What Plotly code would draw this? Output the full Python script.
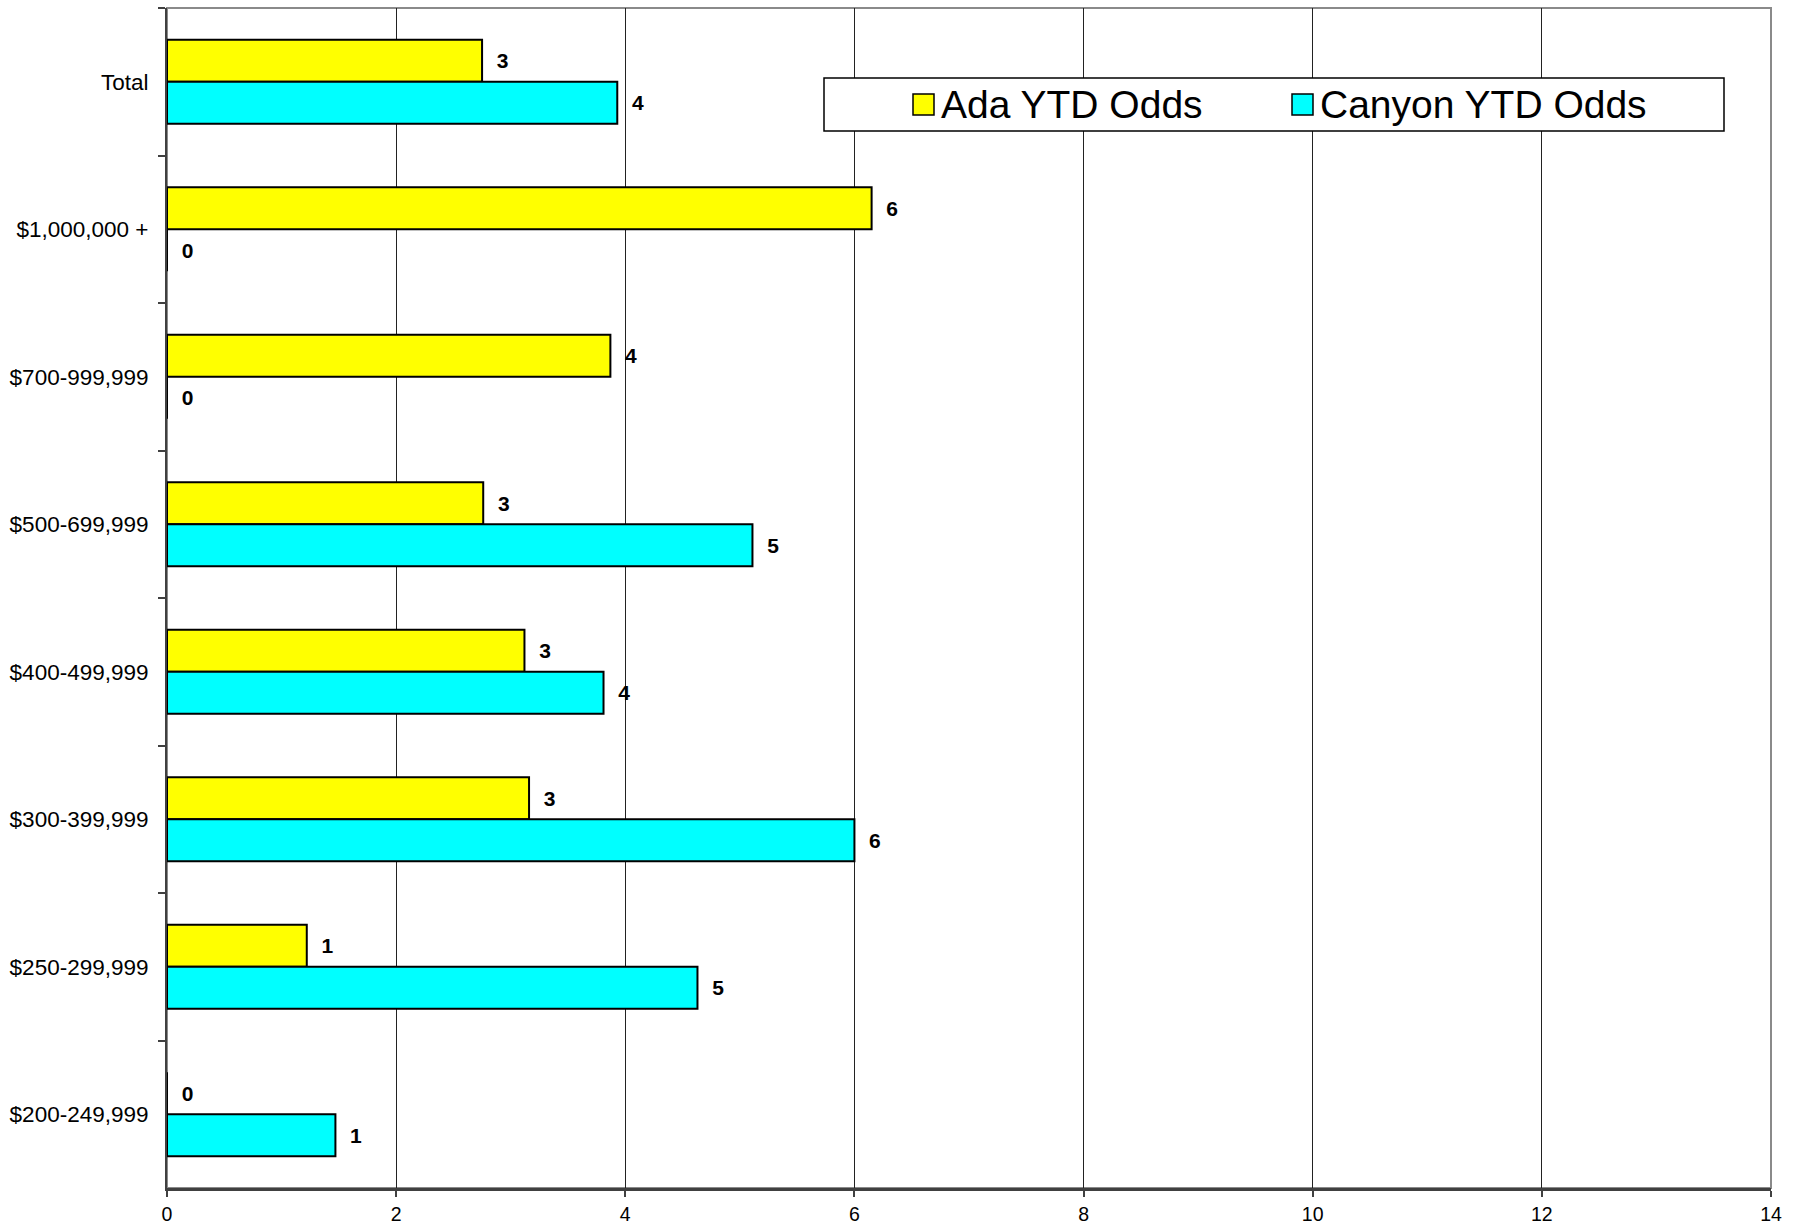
import plotly.graph_objects as go

# ---- data ----
categories = ["Total", "$1,000,000 +", "$700-999,999", "$500-699,999",
              "$400-499,999", "$300-399,999", "$250-299,999", "$200-249,999"]
ada_odds = [2.75, 6.15, 3.87, 2.76, 3.12, 3.16, 1.22, 0.0]
canyon_odds = [3.93, 0.0, 0.0, 5.11, 3.81, 6.00, 4.63, 1.47]
series_names = ["Ada YTD Odds", "Canyon YTD Odds"]
series_colors = ["#FFFF00", "#00FFFF"]
x_ticks = [0, 2, 4, 6, 8, 10, 12, 14]

# ---- layout constants (pixels) ----
W, H = 1808, 1227
L, R, T, B = 167, 1771, 8, 1188
FONT = "Liberation Sans, Arial, sans-serif"


def px_x(x):
    return (x - L) / (R - L)


def px_y(y):
    return (B - y) / (B - T)


fig = go.Figure()
for name, vals, col in zip(series_names, [ada_odds, canyon_odds], series_colors):
    fig.add_trace(go.Bar(
        y=categories, x=vals, name=name, orientation="h",
        marker=dict(color=col, line=dict(color="#000000", width=2)),
        texttemplate="\u00a0\u00a0%{x:.0f}", textposition="outside",
        constraintext="none", cliponaxis=False,
        textfont=dict(family=FONT, size=21, color="#000000", weight="bold"),
        showlegend=False,
    ))

shapes = [
    # plot frame (top / right)
    dict(type="rect", xref="paper", yref="paper", x0=0, x1=1, y0=0, y1=1,
         line=dict(color="#8a8a8a", width=2), layer="below"),
    # legend box
    dict(type="rect", xref="paper", yref="paper",
         x0=px_x(824), x1=px_x(1724), y0=px_y(131), y1=px_y(78),
         fillcolor="#FFFFFF", line=dict(color="#000000", width=1.5), layer="above"),
]
annotations = []
legend_items = [(913, 939), (1292, 1318)]
for (sx, tx), name, col in zip(legend_items, series_names, series_colors):
    shapes.append(dict(type="rect", xref="paper", yref="paper",
                       x0=px_x(sx), x1=px_x(sx + 21), y0=px_y(115), y1=px_y(94),
                       fillcolor=col, line=dict(color="#000000", width=1.5), layer="above"))
    annotations.append(dict(xref="paper", yref="paper", x=px_x(tx), y=px_y(105),
                            xanchor="left", yanchor="middle", text=name, showarrow=False,
                            font=dict(family=FONT, size=39, color="#000000")))

fig.update_layout(
    width=W, height=H,
    margin=dict(l=L, r=W - R, t=T, b=H - B, pad=0, autoexpand=False),
    paper_bgcolor="#FFFFFF", plot_bgcolor="#FFFFFF",
    barmode="group", bargap=0.43, bargroupgap=0,
    font=dict(family=FONT, color="#000000"),
    showlegend=False,
    shapes=shapes, annotations=annotations,
    xaxis=dict(range=[0, 14], tickvals=x_ticks, ticktext=[str(v) for v in x_ticks],
               showgrid=True, gridcolor="#222222", gridwidth=1,
               showline=True, linecolor="#404040", linewidth=3,
               ticks="outside", ticklen=6, tickcolor="#404040", tickwidth=1.5,
               ticklabelstandoff=1, automargin=False,
               tickfont=dict(family=FONT, size=19.5, color="#000000"),
               zeroline=False, fixedrange=True),
    yaxis=dict(categoryorder="array", categoryarray=categories, autorange="reversed",
               showgrid=False, showline=True, linecolor="#404040", linewidth=2,
               ticks="outside", ticklen=7, tickcolor="#404040", tickwidth=1.5,
               tickson="boundaries", ticklabelstandoff=12, automargin=False,
               tickfont=dict(family=FONT, size=22.5, color="#000000"),
               zeroline=False, fixedrange=True),
)

fig.write_html("out.html")
